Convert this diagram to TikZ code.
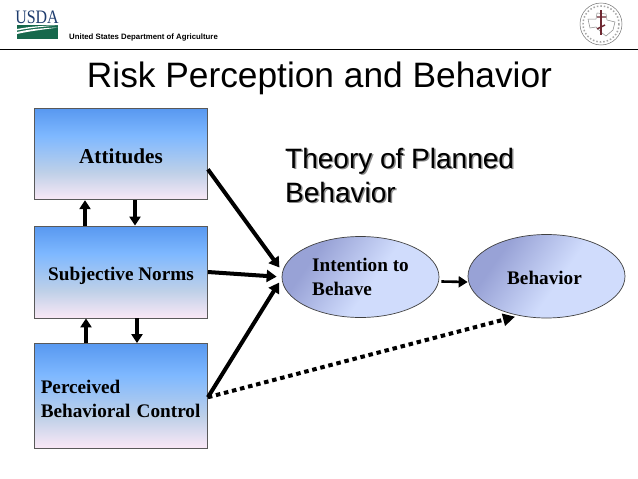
\documentclass[tikz,border=0pt]{standalone}
\usepackage{fontspec}
\setmainfont{Liberation Serif}
\setsansfont{Liberation Sans}
\usetikzlibrary{arrows.meta}
\usetikzlibrary{shapes.geometric}
\definecolor{boxtop}{RGB}{88,152,240}
\definecolor{boxmid}{RGB}{126,184,255}
\definecolor{boxlow}{RGB}{190,208,232}
\definecolor{boxend}{RGB}{250,232,246}
\definecolor{elldark}{RGB}{152,162,214}
\definecolor{elllight}{RGB}{208,220,252}
\definecolor{usdagreen}{RGB}{22,104,76}
\definecolor{usdablue}{RGB}{30,60,110}
\definecolor{sealred}{RGB}{110,40,50}
\pgfdeclareverticalshading{boxfade}{100bp}{
    color(0bp)=(boxend); color(25bp)=(boxend); color(40bp)=(boxlow);
    color(60bp)=(boxmid); color(75bp)=(boxtop); color(100bp)=(boxtop)}
\pgfdeclarehorizontalshading{ellfade}{100bp}{
    color(0bp)=(elldark); color(30bp)=(elldark); color(55bp)=(elllight); color(100bp)=(elllight)}
\tikzset{
    factor/.style={draw=black!65, line width=0.8pt, shading=boxfade, minimum width=173pt, inner sep=0pt, align=center, font=\rmfamily\bfseries\fontsize{19.2}{23.3}\selectfont}, % the three boxes
    state/.style={draw=black!75, line width=0.7pt, ellipse, shading=ellfade, shading angle=-35, inner sep=0pt, align=left, font=\rmfamily\bfseries\fontsize{19.2}{23.3}\selectfont}, % the two ovals
    link/.style={line width=4pt, -{Triangle[length=10pt, width=12pt]}}, % thick arrows
    swap/.style={line width=3.2pt, -{Triangle[length=9pt, width=11pt]}}
}

\begin{document}
\begin{tikzpicture}[x=1pt, y=-1pt]
    \useasboundingbox (0,0) rectangle (638,479);
    \fill[white] (0,0) rectangle (638,479);

    % header
    \draw[line width=1pt] (0,49) -- (638,49);
    \node[text=usdablue, font=\rmfamily\fontsize{19}{19}\selectfont, inner sep=0pt] (usda) at (37,17) {\scalebox{0.84}[1]{USDA}};
    \fill[usdagreen] (17,24.5) -- (58,24.5) -- (58,38.5) -- (17,38.5) -- cycle;
    \fill[white] (17,29) .. controls (30,26.5) and (44,25.5) .. (58,25.5) .. controls (44,26.5) and (30,28) .. (17,30.5) -- cycle;
    \fill[white] (17,32) .. controls (30,29) and (44,28) .. (58,27.5) .. controls (44,29.5) and (30,31) .. (17,34) -- cycle;
    \node[anchor=base west, inner sep=0pt, font=\sffamily\bfseries\fontsize{7.8}{10}\selectfont] (dept) at (69,39) {United States Department of Agriculture};
    \node[anchor=base, inner sep=0pt, font=\sffamily\fontsize{35.3}{40}\selectfont] (title) at (319.5,87) {Risk Perception and Behavior};

    % seal
    \draw[black!55, line width=0.5pt] (601,24) circle (21);
    \draw[black!35, dotted, line width=1.5pt] (601,24) circle (18);
    \draw[black!45, line width=0.5pt] (588,19) -- (596,19) -- (597,13) -- (606,14) -- (607,20) -- (615,22) -- (613,30) -- (606,36) -- (602,33) -- (596,27) -- (590,28) -- cycle;
    \draw[sealred, line width=2pt] (601,10) -- (601,35);
    \draw[sealred, line width=1.4pt] (597,17) -- (606,17) (597,29) -- (605,25);

    % boxes
    \node[factor, minimum height=91.5pt, text height=18pt, text depth=0pt, font=\rmfamily\bfseries\fontsize{21.2}{24}\selectfont] (attitudes) at (121,154) {Attitudes};
    \node[factor, minimum height=92pt, text height=16pt, text depth=0pt] (norms) at (121,272) {Subjective Norms};
    \node[factor, minimum height=104.5pt, text width=160.5pt, align=left] (control) at (121,395.75) {\rule{0pt}{19.8pt}Perceived\\Behavioral Control};

    % heading
    \foreach \col/\off in {black!45/1.5, black/0} {
        \node[anchor=north west, inner sep=0pt, text=\col, align=left, font=\sffamily\fontsize{28}{34}\selectfont] at (285+\off,148+\off) {Theory of Planned\\Behavior};
    }

    % ovals
    \node[state, minimum width=157pt, minimum height=81pt] (intention) at (360.5,277) {Intention to\\Behave};
    \node[state, minimum width=157pt, minimum height=83.5pt, text height=16pt, text depth=0pt] (behavior) at (546.5,276.25) {Behavior\hspace*{4pt}};

    % arrows
    \draw[swap] ([xshift=-36pt]norms.north) -- ([xshift=-36pt]attitudes.south);
    \draw[swap] ([xshift=14pt]attitudes.south) -- ([xshift=14pt]norms.north);
    \draw[swap] ([xshift=-35pt]control.north) -- ([xshift=-35pt]norms.south);
    \draw[swap] ([xshift=16pt]norms.south) -- ([xshift=16pt]control.north);
    \draw[link, shorten >=5pt] (attitudes.-10.5) -- (intention.176);
    \draw[link, shorten >=5pt] (norms.0) -- (intention.180.7);
    \draw[link, shorten >=5pt] (control.-1.5) -- (intention.181);
    \draw[swap, line width=2.6pt] ([xshift=2pt, yshift=-4.5pt]intention.east) -- ([yshift=-5.75pt]behavior.west);
    \draw[line width=4pt, dash pattern=on 4.5pt off 3.8pt, -{Triangle[length=12pt, width=12pt]}, shorten >=4pt] (control.-1.5) -- (behavior.-125);
\end{tikzpicture}
\end{document}
